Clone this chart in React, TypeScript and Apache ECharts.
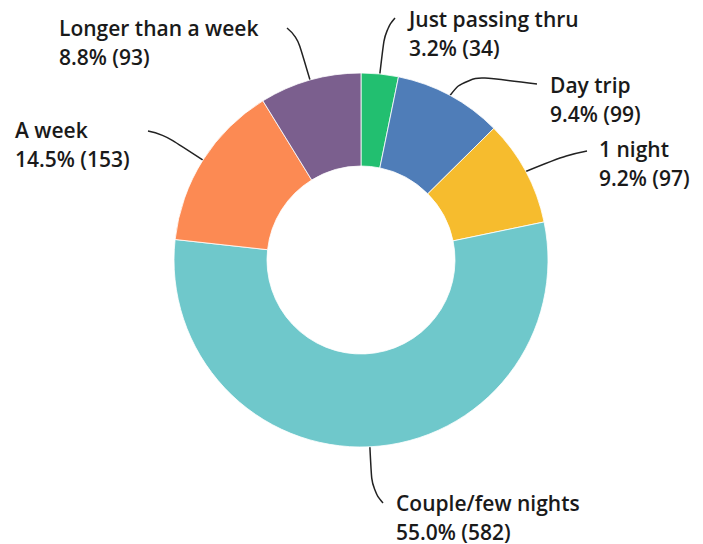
import React, { useEffect, useRef } from "react";
import * as echarts from "echarts";

const categories = [
  "Just passing thru",
  "Day trip",
  "1 night",
  "Couple/few nights",
  "A week",
  "Longer than a week",
];
const counts = [34, 99, 97, 582, 153, 93];
const colors = ["#22bf70", "#4f7db8", "#f6bc2e", "#6fc8cb", "#fc8a53", "#7b5f8e"];

// label layout: text top-left, mid bend point, line end point
const labelPos = [
  { x: 409, y: 4, mid: [385, 30], end: [395, 18] },
  { x: 550, y: 70, mid: [466, 75], end: [537, 84] },
  { x: 599, y: 134, mid: [566, 155], end: [587, 151] },
  { x: 396, y: 488, mid: [372, 490], end: [383, 503] },
  { x: 15, y: 115, mid: [163, 134], end: [148, 131] },
  { x: 59, y: 13, mid: [297, 36], end: [287, 28] },
];

export default function App() {
  const ref = useRef<HTMLDivElement>(null);
  useEffect(() => {
    if (!ref.current) return;
    const chart = echarts.init(ref.current, null, { renderer: "svg" });
    const total = counts.reduce((a, b) => a + b, 0);
    chart.setOption({
      animation: false,
      backgroundColor: "#ffffff",
      series: [
        {
          type: "pie",
          center: [361, 260],
          radius: [94, 187],
          startAngle: 90,
          clockwise: true,
          avoidLabelOverlap: false,
          itemStyle: { borderColor: "#ffffff", borderWidth: 0.8 },
          data: categories.map((name, i) => ({
            name,
            value: counts[i],
            itemStyle: { color: colors[i] },
          })),
          label: {
            show: true,
            formatter: (p: any) =>
              `${p.name}\n${((p.value / total) * 100).toFixed(1)}% (${p.value})`,
            fontFamily: "Open Sans",
            fontWeight: 600,
            fontSize: 21,
            lineHeight: 29,
            color: "#1a1a1a",
          },
          labelLine: {
            show: true,
            smooth: 0.5,
            length: 10,
            length2: 10,
            lineStyle: { color: "#222222", width: 1.5 },
          },
          labelLayout: (params: any) => {
            const lp = labelPos[params.dataIndex];
            const start = params.labelLinePoints
              ? params.labelLinePoints[0]
              : lp.mid;
            return {
              x: lp.x,
              y: lp.y,
              align: "left",
              verticalAlign: "top",
              labelLinePoints: [start, lp.mid, lp.end],
            };
          },
        },
      ],
    });
    return () => chart.dispose();
  }, []);
  return (
    <div
      ref={ref}
      style={{ position: "fixed", left: 0, top: 0, width: 703, height: 544 }}
    />
  );
}
